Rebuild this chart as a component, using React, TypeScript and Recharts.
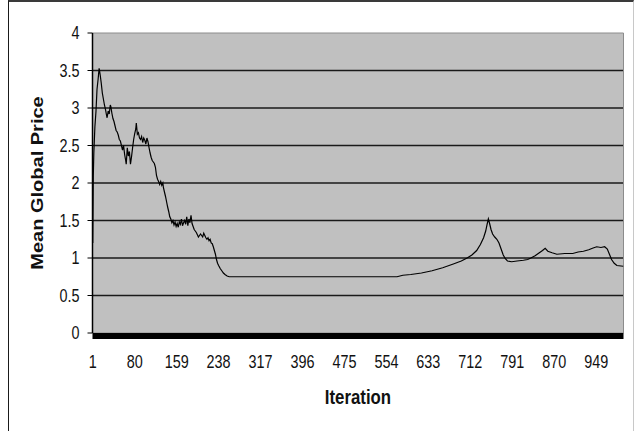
import { CartesianGrid, Line, LineChart, ReferenceArea, XAxis, YAxis } from "recharts";

// mean global price per iteration (sampled where the series changes)
const iterations = [
  1, 2, 3, 5, 7, 9, 11, 13, 15, 17, 19, 21, 23, 25, 27, 28, 30, 32, 34, 35, 37, 39, 41, 43, 45, 47, 49, 51,
  53, 55, 57, 59, 61, 63, 64, 66, 68, 70, 72, 74, 76, 78, 80, 82, 83, 85, 87, 89, 91, 93, 95, 97, 99, 101,
  103, 105, 107, 109, 111, 113, 115, 117, 119, 121, 123, 125, 127, 129, 131, 133, 134, 136, 138, 140, 142,
  144, 146, 148, 150, 152, 154, 156, 158, 160, 162, 164, 166, 168, 170, 172, 174, 176, 178, 180, 182, 184,
  186, 188, 190, 192, 194, 196, 198, 200, 202, 204, 206, 208, 210, 212, 214, 216, 218, 220, 222, 224, 226,
  228, 230, 232, 234, 236, 238, 241, 244, 247, 250, 254, 258, 400, 574, 585, 600, 620, 640, 660, 680, 695,
  706, 715, 724, 731, 737, 741, 744, 746, 748, 751, 754, 758, 762, 766, 770, 774, 778, 782, 790, 800, 812,
  820, 826, 834, 842, 848, 853, 858, 866, 875, 890, 905, 915, 925, 935, 942, 950, 958, 965, 970, 974, 978,
  983, 988, 1000,
];
const prices = [
  1.2, 2.1, 2.4, 2.75, 2.95, 3.25, 3.38, 3.53, 3.44, 3.33, 3.2, 3.12, 3.04, 2.98, 2.9, 2.87, 2.96, 2.92, 3.04,
  3.02, 2.93, 2.86, 2.82, 2.76, 2.7, 2.68, 2.64, 2.58, 2.56, 2.5, 2.44, 2.5, 2.38, 2.3, 2.25, 2.47, 2.36, 2.42,
  2.25, 2.35, 2.47, 2.58, 2.66, 2.72, 2.8, 2.65, 2.67, 2.6, 2.58, 2.62, 2.54, 2.6, 2.57, 2.52, 2.6, 2.55, 2.47,
  2.4, 2.34, 2.3, 2.28, 2.26, 2.21, 2.1, 2.05, 2.02, 1.98, 2.02, 1.97, 2.0, 1.94, 1.88, 1.82, 1.75, 1.68, 1.62,
  1.55, 1.52, 1.47, 1.5, 1.44, 1.48, 1.42, 1.46, 1.41, 1.48, 1.45, 1.52, 1.43, 1.47, 1.5, 1.45, 1.55, 1.43,
  1.52, 1.47, 1.57, 1.46, 1.42, 1.38, 1.36, 1.34, 1.31, 1.28, 1.3, 1.32, 1.3, 1.28, 1.33, 1.3, 1.27, 1.25,
  1.27, 1.23, 1.25, 1.2, 1.19, 1.15, 1.1, 1.05, 0.98, 0.93, 0.9, 0.86, 0.83, 0.8, 0.78, 0.76, 0.75, 0.75, 0.75,
  0.77, 0.78, 0.8, 0.83, 0.87, 0.92, 0.96, 1.0, 1.04, 1.1, 1.18, 1.27, 1.36, 1.46, 1.52, 1.47, 1.38, 1.32,
  1.28, 1.25, 1.2, 1.12, 1.04, 0.99, 0.96, 0.95, 0.96, 0.97, 0.98, 1.0, 1.03, 1.07, 1.1, 1.13, 1.09, 1.07,
  1.05, 1.06, 1.06, 1.08, 1.09, 1.11, 1.13, 1.15, 1.14, 1.15, 1.12, 1.05, 0.98, 0.93, 0.9, 0.89,
];

const xTicks = [1, 80, 159, 238, 317, 396, 475, 554, 633, 712, 791, 870, 949];
const yTicks = [0, 0.5, 1, 1.5, 2, 2.5, 3, 3.5, 4];
const gridValues = [0.5, 1, 1.5, 2, 2.5, 3, 3.5];

const data = iterations.map((it, i) => ({ iteration: it, price: prices[i] }));

const sans = "'Liberation Sans', Arial, sans-serif";

// Arial squeezed sideways, like the old spreadsheet export
function XTick({ x, y, payload }: any) {
  return (
    <g transform={`translate(${x},${y})`}>
      <text transform="scale(0.8,1)" textAnchor="middle" dy="0.71em" fontFamily={sans} fontSize={18} fill="#111">
        {payload.value}
      </text>
    </g>
  );
}

function YTick({ x, y, payload }: any) {
  return (
    <g transform={`translate(${x},${y})`}>
      <text transform="scale(0.8,1)" textAnchor="end" dy="0.355em" fontFamily={sans} fontSize={18} fill="#111">
        {payload.value}
      </text>
    </g>
  );
}

export default function App() {
  return (
    <div style={{ position: "absolute", left: 0, top: 0, width: 635, height: 431, overflow: "hidden", background: "#fff" }}>
      <div
        style={{
          position: "absolute",
          left: 8,
          top: 0,
          width: 626,
          height: 460,
          boxSizing: "border-box",
          borderTop: "2px solid #3a3a3a",
          borderLeft: "1px solid #1a1a1a",
          borderRight: "1px solid #c8c8c8",
        }}
      />
      <LineChart
        width={635}
        height={431}
        data={data}
        margin={{ top: 33, right: 11.5, bottom: 68, left: 32.5 }}
        style={{ position: "absolute", left: 0, top: 0 }}
      >
        <CartesianGrid
          fill="#c0c0c0"
          stroke="#1a1a1a"
          strokeWidth={1.5}
          vertical={false}
          horizontalValues={gridValues}
        />
        <ReferenceArea x1={0.5} x2={1000.5} y1={0} y2={4} fill="none" stroke="#8c8c8c" strokeWidth={1} />
        <XAxis
          dataKey="iteration"
          type="number"
          domain={[0.5, 1000.5]}
          ticks={xTicks}
          interval={0}
          height={30}
          tickSize={0}
          tickMargin={22}
          tickLine={false}
          axisLine={{ stroke: "#000", strokeWidth: 6, transform: "translate(0, 3)" }}
          tick={<XTick />}
        />
        <YAxis
          type="number"
          domain={[0, 4]}
          ticks={yTicks}
          interval={0}
          width={60}
          tickSize={5}
          tickMargin={8}
          tickLine={{ stroke: "#000" }}
          axisLine={{ stroke: "#000", strokeWidth: 1.5 }}
          tick={<YTick />}
        />
        <Line
          type="linear"
          dataKey="price"
          stroke="#000"
          strokeWidth={1.2}
          dot={false}
          isAnimationActive={false}
        />
      </LineChart>
      <div
        style={{
          position: "absolute",
          left: 37,
          top: 183,
          transform: "translate(-50%, -50%) rotate(-90deg) scale(1, 0.85)",
          whiteSpace: "nowrap",
          fontFamily: sans,
          fontWeight: 700,
          fontSize: 20,
          color: "#111",
        }}
      >
        Mean Global Price
      </div>
      <div
        style={{
          position: "absolute",
          left: 358,
          top: 397,
          transform: "translate(-50%, -50%) scale(0.8, 1)",
          whiteSpace: "nowrap",
          fontFamily: sans,
          fontWeight: 700,
          fontSize: 21,
          color: "#111",
        }}
      >
        Iteration
      </div>
    </div>
  );
}
